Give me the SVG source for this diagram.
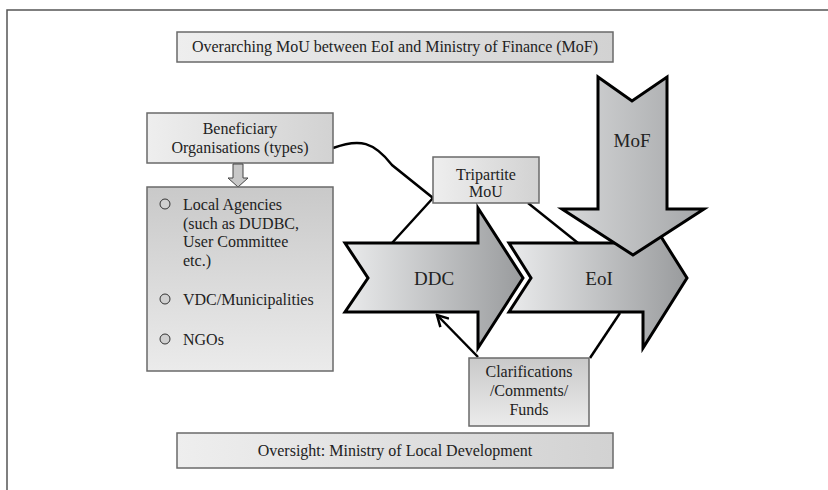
<svg xmlns="http://www.w3.org/2000/svg" width="828" height="490" viewBox="0 0 828 490" font-family="'Liberation Serif', 'Times New Roman', Tinos, 'DejaVu Serif', serif">
<defs>
<linearGradient id="gH" x1="0" y1="0" x2="1" y2="0">
<stop offset="0" stop-color="#eeeeee"/><stop offset="1" stop-color="#d2d2d2"/>
</linearGradient>
<linearGradient id="gV" x1="0" y1="0" x2="0" y2="1">
<stop offset="0" stop-color="#c9c9c9"/><stop offset="1" stop-color="#ebebeb"/>
</linearGradient>
<linearGradient id="gA" x1="0" y1="0" x2="1" y2="0">
<stop offset="0" stop-color="#eaebec"/><stop offset="1" stop-color="#999b9d"/>
</linearGradient>
<linearGradient id="gM" x1="0" y1="0" x2="1" y2="0">
<stop offset="0" stop-color="#d6d7d8"/><stop offset="1" stop-color="#a4a6a8"/>
</linearGradient>
<marker id="open" markerWidth="14" markerHeight="14" refX="12" refY="7" orient="auto" markerUnits="userSpaceOnUse">
<path d="M1,1 L12,7 L1,13" fill="none" stroke="#000" stroke-width="2.5"/>
</marker>
</defs>
<style>
.box{stroke:#6a6a6a;stroke-width:1.5}
.arr{stroke:#000;stroke-width:3;stroke-linejoin:miter}
text{font-family:"Liberation Serif","Times New Roman",serif;font-size:16px;fill:#222}
.c{text-anchor:middle}
.big{font-size:19px}
.ln{fill:none;stroke:#000;stroke-width:2.5}
.bul{fill:#d0d0d0;stroke:#333;stroke-width:1}
</style>
<rect width="828" height="490" fill="#fff"/>
<rect x="7" y="10" width="900" height="600" fill="none" stroke="#555" stroke-width="1.5"/>

<g id="top-mou">
<rect class="box" x="177" y="32" width="436" height="30" fill="url(#gH)"/>
<text class="c" x="395" y="52">Overarching MoU between EoI and Ministry of Finance (MoF)</text>
</g>

<g id="connectors">
<path class="ln" d="M333,148 C360,138 374,142 392,165 L433,198 L392,243"/>
<path class="ln" d="M528,203 L578,243"/>
<path class="ln" d="M478,357 L437,315" marker-end="url(#open)"/>
<path class="ln" d="M590,358 L620,313"/>
</g>

<g id="beneficiary">
<rect class="box" x="147" y="113" width="186" height="50" fill="url(#gH)"/>
<text class="c" x="240" y="134">Beneficiary</text>
<text class="c" x="240" y="153">Organisations (types)</text>
</g>

<g id="down-arrow">
<path d="M233,164 L243,164 L243,178 L248,178 L238,187 L228,178 L233,178 Z" fill="#c8c8c8" stroke="#444" stroke-width="1"/>
</g>

<g id="types">
<rect class="box" x="147" y="187" width="186" height="184" fill="url(#gV)"/>
<circle class="bul" cx="165" cy="204" r="5"/>
<text x="183" y="210">Local Agencies</text>
<text x="183" y="229">(such as DUDBC,</text>
<text x="183" y="247">User Committee</text>
<text x="183" y="266">etc.)</text>
<circle class="bul" cx="165" cy="299" r="5"/>
<text x="183" y="305">VDC/Municipalities</text>
<circle class="bul" cx="165" cy="339" r="5"/>
<text x="183" y="345">NGOs</text>
</g>

<g id="tripartite">
<rect class="box" x="433" y="157" width="106" height="46" fill="url(#gH)"/>
<text class="c" x="486" y="180">Tripartite</text>
<text class="c" x="486" y="197">MoU</text>
</g>

<g id="ddc">
<path class="arr" d="M345,243 L478,243 L478,208 L523,278 L478,348 L478,312 L345,312 L368,278 Z" fill="url(#gA)"/>
<text class="c big" x="434" y="285">DDC</text>
</g>

<g id="eoi">
<path class="arr" d="M509,243 L643,243 L643,208 L687,278 L643,348 L643,312 L509,312 L531,278 Z" fill="url(#gA)"/>
<text class="c big" x="599" y="285">EoI</text>
</g>

<g id="mof">
<path class="arr" d="M598,77 L632,101 L667,77 L667,209 L704,209 L633,255 L562,209 L598,209 Z" fill="url(#gM)"/>
<text class="c big" x="632" y="147">MoF</text>
</g>

<g id="clarifications">
<rect class="box" x="469" y="358" width="120" height="68" fill="url(#gV)"/>
<text class="c" x="529" y="377">Clarifications</text>
<text class="c" x="529" y="396">/Comments/</text>
<text class="c" x="529" y="415">Funds</text>
</g>

<g id="oversight">
<rect class="box" x="177" y="433" width="436" height="35" fill="url(#gH)"/>
<text class="c" x="395" y="456">Oversight: Ministry of Local Development</text>
</g>
</svg>
